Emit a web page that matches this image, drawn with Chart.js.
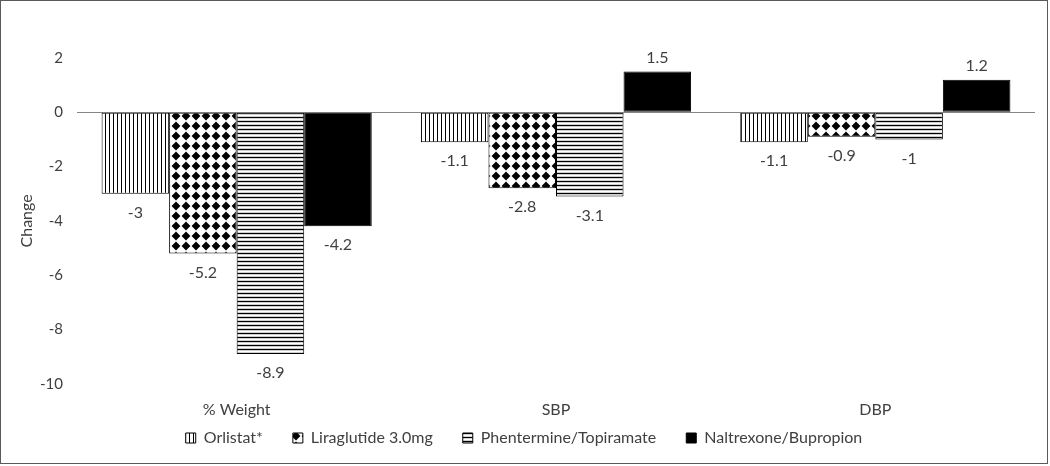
<!DOCTYPE html>
<html>
<head>
<meta charset="utf-8">
<script src="https://cdn.jsdelivr.net/npm/chart.js@4"></script>
<style>
  body { margin: 0; background: #fff; }
  #box { position: absolute; left: 0; top: 0; width: 1046px; height: 462px; border: 1px solid #595959; }
</style>
</head>
<body>
<div id="box"><canvas id="myChart" width="1046" height="462"></canvas></div>
<script>
const categories = ['% Weight', 'SBP', 'DBP'];
const seriesNames = ['Orlistat*', 'Liraglutide 3.0mg', 'Phentermine/Topiramate', 'Naltrexone/Bupropion'];
const orlistat = [-3, -1.1, -1.1];
const liraglutide = [-5.2, -2.8, -0.9];
const phentermine = [-8.9, -3.1, -1];
const naltrexone = [-4.2, 1.5, 1.2];
const yTicks = [2, 0, -2, -4, -6, -8, -10];

const makePattern = (w, h, draw) => {
    const c = document.createElement('canvas');
    c.width = w; c.height = h;
    const g = c.getContext('2d');
    draw(g);
    return g.createPattern(c, 'repeat');
};

const vertStripes = makePattern(4, 4, g => {
    g.fillStyle = '#fff'; g.fillRect(0, 0, 4, 4);
    g.fillStyle = '#000'; g.fillRect(0, 0, 1, 4);
});
const diamonds = makePattern(10, 10, g => {
    g.fillStyle = '#fff'; g.fillRect(0, 0, 10, 10);
    g.fillStyle = '#000';
    g.beginPath();
    g.moveTo(5, 0.6); g.lineTo(9.4, 5); g.lineTo(5, 9.4); g.lineTo(0.6, 5);
    g.closePath(); g.fill();
});
const horizStripes = makePattern(4, 4, g => {
    g.fillStyle = '#d0d0d0'; g.fillRect(0, 0, 4, 4);
    g.fillStyle = '#000'; g.fillRect(0, 0, 4, 1);
    g.fillStyle = '#fff'; g.fillRect(0, 2, 4, 1);
});

const valueLabels = {
    id: 'valueLabels',
    afterDatasetsDraw(chart) {
        const ctx = chart.ctx;
        ctx.save();
        ctx.font = '16px Lato';
        ctx.fillStyle = '#404040';
        ctx.textAlign = 'center';
        ctx.textBaseline = 'middle';
        chart.data.datasets.forEach((ds, i) => {
            chart.getDatasetMeta(i).data.forEach((bar, j) => {
                const v = ds.data[j];
                const y = v < 0 ? bar.y + 19 : bar.y - 14;
                ctx.fillText(String(v), bar.x, y);
            });
        });
        ctx.restore();
    }
};

// pull the legend up closer to the category labels
const legendSpot = {
    id: 'legendSpot',
    afterLayout(chart) {
        const l = chart.legend;
        const h = l.bottom - l.top;
        l.top = 399;
        l.bottom = l.top + h;
    }
};

const ctx = document.querySelector('#myChart').getContext('2d');
const config = {
    type: 'bar',
    data: {
        labels: categories,
        datasets: [
            { label: seriesNames[0], data: orlistat, backgroundColor: vertStripes },
            { label: seriesNames[1], data: liraglutide, backgroundColor: diamonds },
            { label: seriesNames[2], data: phentermine, backgroundColor: horizStripes },
            { label: seriesNames[3], data: naltrexone, backgroundColor: '#000' }
        ].map(d => Object.assign(d, { borderColor: '#000', borderWidth: 1, borderSkipped: false }))
    },
    options: {
        responsive: false,
        animation: false,
        categoryPercentage: 0.846,
        barPercentage: 1,
        layout: { padding: { top: 57, left: 12, right: 12, bottom: -28 } },
        plugins: {
            tooltip: { enabled: false },
            legend: {
                position: 'bottom',
                labels: {
                    font: { family: 'Lato', size: 16 },
                    color: '#404040',
                    boxWidth: 10,
                    boxHeight: 10,
                    padding: 30
                }
            }
        },
        scales: {
            x: {
                grid: { display: false, drawTicks: false },
                border: { display: false },
                ticks: { font: { family: 'Lato', size: 16 }, color: '#404040', padding: 16 }
            },
            y: {
                min: -10,
                max: 2,
                afterBuildTicks: axis => { axis.ticks = yTicks.map(v => ({ value: v })); },
                afterFit: axis => { axis.width = 64; },
                grid: {
                    drawTicks: false,
                    color: c => c.tick && c.tick.value === 0 ? '#868686' : 'rgba(0,0,0,0)'
                },
                border: { display: false },
                ticks: { font: { family: 'Lato', size: 15 }, color: '#404040', padding: 14 },
                title: { display: true, text: 'Change', font: { family: 'Lato', size: 16 }, color: '#404040', padding: 4 }
            }
        }
    },
    plugins: [valueLabels, legendSpot]
};
new Chart(ctx, config);
</script>
</body>
</html>
